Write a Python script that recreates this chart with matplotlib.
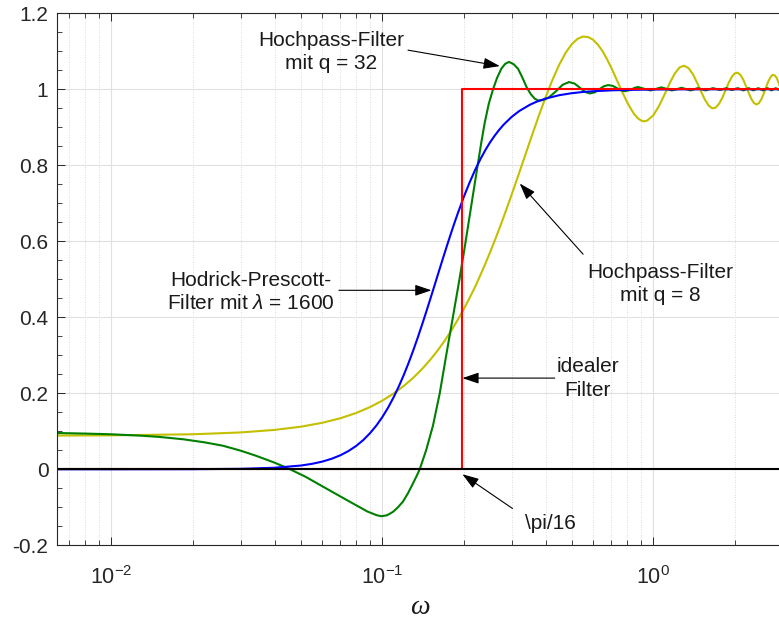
import numpy as np
import matplotlib.pyplot as plt
from matplotlib.ticker import LogLocator, MultipleLocator, FixedLocator, NullFormatter

plt.rcParams['font.family'] = ['Liberation Sans', 'DejaVu Sans']
plt.rcParams['mathtext.fontset'] = 'custom'
plt.rcParams['mathtext.rm'] = 'Liberation Sans'
plt.rcParams['mathtext.it'] = 'Liberation Sans:italic'

# Hodrick-Prescott filter, lambda = 1600
omega_hp = [0.00628, 0.01, 0.02, 0.03, 0.04, 0.05, 0.055, 0.06, 0.065, 0.07, 0.075,
            0.08, 0.085, 0.09, 0.095, 0.1, 0.105, 0.11, 0.115, 0.12, 0.125, 0.13,
            0.135, 0.14, 0.145, 0.15, 0.155, 0.16, 0.165, 0.17, 0.175, 0.18, 0.185,
            0.19, 0.2, 0.21, 0.22, 0.23, 0.24, 0.25, 0.26, 0.27, 0.28, 0.3, 0.32,
            0.35, 0.37, 0.4, 0.45, 0.5, 0.55, 0.6, 0.7, 0.8, 1.0, 1.3, 1.7, 2.2, 3.14]
gain_hp = [0.0, 0.0, 0.0003, 0.0013, 0.0041, 0.0099, 0.0144, 0.0203, 0.0278, 0.037,
           0.0482, 0.0615, 0.077, 0.095, 0.1151, 0.1377, 0.1625, 0.1895, 0.2183,
           0.2487, 0.2804, 0.313, 0.3463, 0.3799, 0.4134, 0.4466, 0.4791, 0.5108,
           0.5414, 0.5708, 0.5989, 0.6256, 0.6508, 0.6745, 0.7178, 0.7554, 0.788,
           0.8161, 0.8402, 0.861, 0.8785, 0.8936, 0.9066, 0.9274, 0.9428, 0.9592,
           0.967, 0.9755, 0.9845, 0.9897, 0.9929, 0.9949, 0.9972, 0.9983, 0.9993,
           0.9998, 0.9999, 1.0, 1.0]

# high-pass filter, q = 8
omega_q8 = [0.00628, 0.01, 0.02, 0.03, 0.04, 0.05, 0.06, 0.07, 0.08, 0.09, 0.1, 0.11,
            0.12, 0.13, 0.14, 0.15, 0.16, 0.17, 0.18, 0.19, 0.2, 0.21, 0.22, 0.23,
            0.24, 0.25, 0.26, 0.27, 0.28, 0.3, 0.325, 0.35, 0.375, 0.4, 0.425, 0.45,
            0.475, 0.5, 0.525, 0.55, 0.575, 0.6, 0.625, 0.65, 0.675, 0.7, 0.725, 0.75,
            0.775, 0.8, 0.825, 0.85, 0.875, 0.9, 0.925, 0.95, 1.0, 1.05, 1.1, 1.15,
            1.2, 1.25, 1.3, 1.35, 1.4, 1.45, 1.5, 1.55, 1.6, 1.65, 1.7, 1.75, 1.8,
            1.9, 1.95, 2.0, 2.05, 2.1, 2.15, 2.2, 2.25, 2.3, 2.35, 2.4, 2.45, 2.5,
            2.55, 2.6, 2.65, 2.7, 2.75, 2.8, 2.85, 2.9, 2.95, 3.0]
gain_q8 = [0.0888, 0.0894, 0.0922, 0.097, 0.1037, 0.1121, 0.1224, 0.1344, 0.1482,
           0.1637, 0.1808, 0.1994, 0.2195, 0.2409, 0.2637, 0.2877, 0.3128, 0.3389,
           0.366, 0.3941, 0.4223, 0.4515, 0.4805, 0.5111, 0.5414, 0.5719, 0.6025,
           0.6328, 0.6632, 0.7227, 0.7947, 0.862, 0.9237, 0.9786, 1.026, 1.0654,
           1.0964, 1.1186, 1.1326, 1.1388, 1.1373, 1.1301, 1.1171, 1.0998, 1.0788,
           1.0562, 1.0323, 1.0089, 0.9868, 0.9662, 0.9493, 0.9345, 0.9242, 0.918,
           0.9156, 0.9179, 0.9315, 0.9563, 0.9861, 1.0167, 1.0416, 1.0575, 1.0621,
           1.0553, 1.0397, 1.0173, 0.994, 0.9728, 0.9572, 0.9497, 0.9518, 0.9623,
           0.9786, 1.018, 1.0332, 1.0421, 1.0437, 1.0371, 1.0245, 1.0076, 0.9897,
           0.9747, 0.9641, 0.96, 0.9632, 0.9728, 0.9869, 1.0035, 1.0189, 1.0304,
           1.0377, 1.037, 1.0305, 1.0175, 1.0024, 0.9867]

# high-pass filter, q = 32
omega_q32 = [0.00628, 0.008, 0.01, 0.0127, 0.015, 0.0184, 0.022, 0.0258, 0.03, 0.0342,
             0.04, 0.0455, 0.052, 0.0603, 0.07, 0.0802, 0.088, 0.095, 0.099, 0.104,
             0.1094, 0.1141, 0.1191, 0.1245, 0.1297, 0.1337, 0.1373, 0.145, 0.1537,
             0.1628, 0.172, 0.182, 0.1925, 0.2019, 0.2148, 0.2256, 0.232, 0.2386,
             0.247, 0.2561, 0.265, 0.2752, 0.284, 0.2934, 0.305, 0.3166, 0.328,
             0.3403, 0.353, 0.3654, 0.376, 0.3865, 0.40, 0.412, 0.4376, 0.463, 0.4888,
             0.512, 0.536, 0.56, 0.5833, 0.608, 0.632, 0.657, 0.6816, 0.708, 0.734,
             0.76, 0.7856, 0.809, 0.832, 0.855, 0.8783, 0.927, 0.976, 1.023, 1.07,
             1.12, 1.17, 1.22, 1.27, 1.37, 1.46, 1.56, 1.66, 1.76, 1.86, 1.95, 2.05,
             2.15, 2.25, 2.34, 2.44, 2.54, 2.64, 2.73, 2.83, 2.93, 3.03]
gain_q32 = [0.0955, 0.094, 0.0921, 0.0887, 0.0853, 0.079, 0.0711, 0.062, 0.049,
            0.0355, 0.0175, 0.0005, -0.0195, -0.0455, -0.0715, -0.095, -0.111,
            -0.1205, -0.1235, -0.121, -0.112, -0.1, -0.085, -0.062, -0.037, -0.018,
            0.0, 0.05, 0.115, 0.2, 0.3, 0.4, 0.5, 0.59, 0.712, 0.808, 0.862, 0.912,
            0.962, 1.0, 1.03, 1.055, 1.067, 1.072, 1.066, 1.054, 1.032, 1.006, 0.987,
            0.975, 0.9705, 0.971, 0.974, 0.979, 0.995, 1.012, 1.019, 1.015, 1.004,
            0.993, 0.989, 0.992, 1.0, 1.008, 1.011, 1.009, 1.003, 0.997, 0.995,
            0.997, 1.0, 1.004, 1.006, 1.001, 0.997, 1.001, 1.005, 1.001, 0.997, 1.0,
            1.004, 0.997, 1.003, 0.997, 1.003, 0.998, 1.003, 0.998, 1.003, 0.997,
            1.003, 0.997, 1.003, 0.997, 1.003, 0.997, 1.003, 0.997, 1.003]

# ideal filter with cutoff pi/16
omega_ideal = [0.00628, np.pi / 16, np.pi / 16, np.pi]
gain_ideal = [0, 0, 1, 1]

fig = plt.figure(figsize=(7.79, 6.23), dpi=100)
ax = fig.add_axes([0.0728, 0.1247, 0.9388, 0.854])

ax.plot(omega_q8, gain_q8, color='#c4bf00', lw=1.5)
ax.plot(omega_q32, gain_q32, color='#008000', lw=1.5)
ax.plot(omega_hp, gain_hp, color='#0000ff', lw=1.5)
ax.plot(omega_ideal, gain_ideal, color='#ff0000', lw=1.5)
ax.axhline(0, color='black', lw=1.5)

ax.set_xscale('log')
ax.set_xlim(0.00628, np.pi)
ax.set_ylim(-0.2, 1.2)

ax.xaxis.set_major_locator(LogLocator(base=10, numticks=10))
ax.xaxis.set_minor_locator(LogLocator(base=10, subs=np.arange(2, 10), numticks=20))
ax.xaxis.set_minor_formatter(NullFormatter())
ax.yaxis.set_major_locator(FixedLocator([-0.2, 0, 0.2, 0.4, 0.6, 0.8, 1, 1.2]))
ax.set_yticklabels(['-0.2', '0', '0.2', '0.4', '0.6', '0.8', '1', '1.2'])
ax.yaxis.set_minor_locator(MultipleLocator(0.05))

ax.grid(which='major', color='#e0e0e0', lw=0.8)
ax.grid(which='minor', axis='x', color='#cfcfcf', lw=0.6, ls=(0, (1, 2)))
ax.set_axisbelow(True)

ax.tick_params(which='both', direction='in', top=True, right=False,
               colors='#262626', labelsize=15)
ax.tick_params(which='major', length=6, width=0.7)
ax.tick_params(which='minor', length=3.5, width=0.6)
ax.tick_params(axis='x', which='major', pad=15, labelsize=15.5)
ax.tick_params(axis='y', pad=6)
for s in ax.spines.values():
    s.set_color('#262626')
    s.set_linewidth(0.8)

# x label, placed by its baseline so it stays inside the figure
fig.text(0.539, 0.014, 'ω', fontsize=20, fontstyle='italic',
         family='Liberation Serif', ha='center', va='baseline', color='#1a1a1a')

arrow = dict(arrowstyle='-|>,head_length=0.5,head_width=0.17', color='black',
             lw=0.8, mutation_scale=20, shrinkA=0, shrinkB=0)
txt = dict(fontsize=15, ha='center', va='center', multialignment='center',
           color='#1a1a1a', linespacing=1.3)

# (label, text position, arrow tail, arrow tip) in data coordinates
notes = [
    ('Hochpass-Filter\nmit q = 32', (0.0647, 1.098), (0.1243, 1.103), (0.2713, 1.061)),
    ('Hodrick-Prescott-\nFilter mit $\\lambda$ = 1600', (0.0328, 0.466), (0.0691, 0.471), (0.1517, 0.471)),
    ('Hochpass-Filter\nmit q = 8', (1.057, 0.487), (0.5506, 0.566), (0.3213, 0.752)),
    ('idealer\nFilter', (0.573, 0.239), (0.4327, 0.240), (0.1974, 0.240)),
    ('\\pi/16', (0.418, -0.143), (0.302, -0.103), (0.1974, -0.013)),
]
for label, pos, tail, tip in notes:
    ax.text(pos[0], pos[1], label, **txt)
    ax.annotate('', xy=tip, xytext=tail, arrowprops=arrow)

fig.savefig('out.png', dpi=100)
